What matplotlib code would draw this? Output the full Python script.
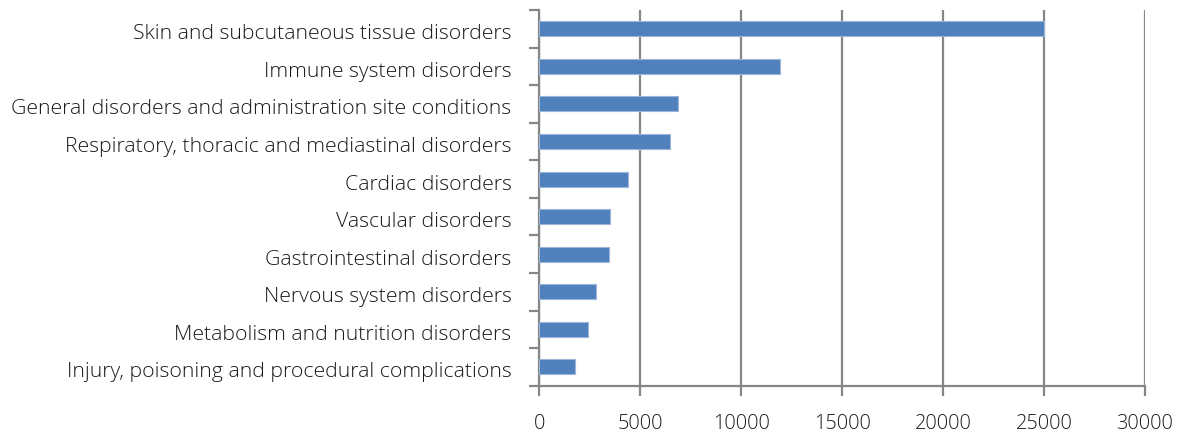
import matplotlib
matplotlib.use('Agg')
import matplotlib.pyplot as plt
import matplotlib.transforms as mtransforms
import numpy as np

categories = [
    'Skin and subcutaneous tissue disorders',
    'Immune system disorders',
    'General disorders and administration site conditions',
    'Respiratory, thoracic and mediastinal disorders',
    'Cardiac disorders',
    'Vascular disorders',
    'Gastrointestinal disorders',
    'Nervous system disorders',
    'Metabolism and nutrition disorders',
    'Injury, poisoning and procedural complications',
]
counts = [24990, 11900, 6890, 6460, 4400, 3520, 3440, 2810, 2400, 1790]
x_ticks = [0, 5000, 10000, 15000, 20000, 25000, 30000]

plt.rcParams['font.family'] = ['Open Sans', 'DejaVu Sans']
grid_color = '#868686'

fig = plt.figure(figsize=(11.81, 4.35), dpi=100)
ax = fig.add_axes([0.4566, 0.111, 0.5129, 0.8637])

y = np.arange(len(categories))
ax.barh(y, counts, height=0.4, color='#4F81BD', edgecolor='#9DB5D8', linewidth=0.8, zorder=3)

ax.set_xlim(0, 30000)
ax.set_ylim(len(categories) - 0.5, -0.5)
ax.set_xticks(x_ticks)
ax.set_xticklabels([str(t) for t in x_ticks])
ax.xaxis.grid(True, color=grid_color, linewidth=1.6, zorder=0)

# category labels at bar centres, tick marks on the boundaries between them
ax.set_yticks(y)
ax.set_yticklabels(categories)
ax.set_yticks(np.arange(len(categories) + 1) - 0.5, minor=True)
ax.tick_params(axis='y', which='major', length=0, pad=20, labelsize=15.3, labelcolor='#1a1a1a')
ax.tick_params(axis='y', which='minor', length=7, width=1.6, color=grid_color, direction='out')
ax.tick_params(axis='x', length=7, width=1.6, color=grid_color, pad=13, labelsize=14.3, labelcolor='#1a1a1a')
shift = mtransforms.ScaledTranslation(0, -2 / 100, fig.dpi_scale_trans)
for lbl in ax.get_yticklabels():
    lbl.set_fontweight('light')
    lbl.set_transform(lbl.get_transform() + shift)
for lbl in ax.get_xticklabels():
    lbl.set_fontweight('light')

for side in ['top', 'right']:
    ax.spines[side].set_visible(False)
for side in ['left', 'bottom']:
    ax.spines[side].set_color(grid_color)
    ax.spines[side].set_linewidth(1.6)

fig.savefig('out.png', dpi=100)
